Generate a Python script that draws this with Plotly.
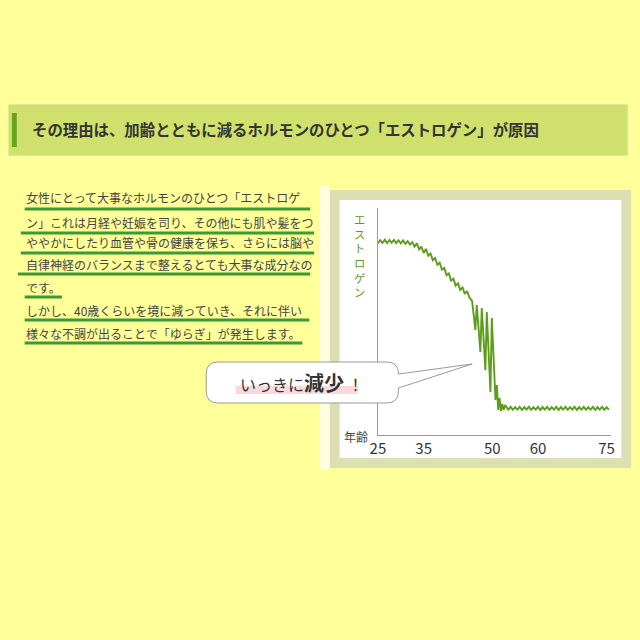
import plotly.graph_objects as go

# estrogen curve (age in years, level 0-100)
ages = [
    25.0, 25.5, 26.0, 26.5, 27.0, 27.5, 28.0, 28.5, 29.0, 29.5, 30.0, 30.5, 31.0, 31.5, 32.0, 32.5,
    33.0, 33.5, 34.0, 34.5, 35.0, 35.5, 36.0, 36.5, 37.0, 37.5, 38.0, 38.5, 39.0, 39.5, 40.0, 40.5,
    41.0, 41.5, 42.0, 42.5, 43.0, 43.5, 44.0, 44.5, 45.0,
    45.6, 46.3, 46.6, 47.4, 47.7, 48.5, 48.8, 49.6, 49.9, 50.7, 51.0, 51.3, 51.6, 51.9, 52.2, 52.5, 52.8,
    53.5, 54.0, 54.5, 55.0, 55.5, 56.0, 56.5, 57.0, 57.5, 58.0, 58.5, 59.0, 59.5, 60.0, 60.5, 61.0,
    61.5, 62.0, 62.5, 63.0, 63.5, 64.0, 64.5, 65.0, 65.5, 66.0, 66.5, 67.0, 67.5, 68.0, 68.5, 69.0,
    69.5, 70.0, 70.5, 71.0, 71.5, 72.0, 72.5, 73.0, 73.5, 74.0, 74.5, 75.0, 75.5,
]
estrogen = [
    84.4, 85.9, 84.6, 86.0, 84.5, 85.9, 84.7, 86.0, 84.5, 85.8, 84.4, 85.7, 84.2, 85.4, 83.9, 85.0,
    83.0, 84.5, 81.8, 83.0, 80.2, 82.0, 79.0, 80.0, 77.0, 78.0, 75.0, 75.9, 72.8, 73.6, 70.4, 71.2,
    68.0, 68.9, 65.8, 66.8, 63.9, 65.0, 62.2, 63.4, 60.6,
    59.0, 46.3, 57.3, 36.6, 55.9, 28.6, 54.2, 18.9, 51.5, 15.4, 22.0, 11.0, 16.3, 10.6, 13.7, 11.0, 13.2,
    11.2, 12.4, 11.1, 12.3, 11.2, 12.4, 11.0, 12.3, 11.2, 12.4, 11.1, 12.3, 11.2, 12.4, 11.0, 12.3,
    11.2, 12.4, 11.1, 12.3, 11.2, 12.4, 11.0, 12.3, 11.2, 12.4, 11.1, 12.3, 11.2, 12.4, 11.0, 12.3,
    11.2, 12.4, 11.1, 12.3, 11.2, 12.4, 11.0, 12.3, 11.2, 12.4, 11.1, 12.3, 11.2,
]
tick_ages = [25, 35, 50, 60, 75]

title_text = "その理由は、加齢とともに減るホルモンのひとつ「エストロゲン」が原因"
body_lines = [
    "女性にとって大事なホルモンのひとつ「エストロゲ",
    "ン」これは月経や妊娠を司り、その他にも肌や髪をつ",
    "ややかにしたり血管や骨の健康を保ち、さらには脳や",
    "自律神経のバランスまで整えるとても大事な成分なの",
    "です。",
    "しかし、40歳くらいを境に減っていき、それに伴い",
    "様々な不調が出ることで「ゆらぎ」が発生します。",
]
y_label = "エストロゲン"
x_label = "年齢"

W = H = 640
JP = "Noto Sans CJK JP"
BG = "#FFFF99"
GREEN = "#5c9e1c"


def px(x):
    return x / W


def py(y):
    return 1 - y / H


def rect(x0, y0, x1, y1, fill, line=None, lw=0):
    return dict(type="rect", xref="paper", yref="paper", x0=px(x0), x1=px(x1), y0=py(y1), y1=py(y0),
                fillcolor=fill, line=dict(color=line or fill, width=lw), layer="below")


def path(cmds):
    out = []
    for c in cmds:
        if isinstance(c, str):
            out.append(c)
        else:
            out.append("%.5f,%.5f" % (px(c[0]), py(c[1])))
    return " ".join(out)


fig = go.Figure()
fig.add_trace(go.Scatter(x=ages, y=estrogen, mode="lines", line=dict(color=GREEN, width=1.9),
                         hoverinfo="skip", showlegend=False))

shapes = []
# header band
shapes.append(rect(0, 104, 632, 156, "#cfe06c", "#eef5b8", 1))
shapes.append(rect(4, 113, 9, 147, "#64a51c"))
# strip and chart frame
shapes.append(rect(318, 186, 328, 470, "#ffffe0"))
shapes.append(rect(328, 190, 635, 468, "#dcdfb2"))
shapes.append(rect(338, 200, 625, 458, "white"))

# underlines of body text
underlines = [(17, 308, 209), (13, 312, 233), (13, 312, 253), (10, 308, 274),
              (17, 55, 297), (17, 307, 320), (17, 300, 343)]
for x0, x1, y in underlines:
    shapes.append(dict(type="line", xref="paper", yref="paper", x0=px(x0), x1=px(x1), y0=py(y), y1=py(y),
                       line=dict(color="#3c9a36", width=3)))

# callout bubble
shapes.append(dict(type="path", xref="paper", yref="paper", fillcolor="white",
                   line=dict(color="#9a9a9a", width=1),
                   path=path(["M", (214, 362), "L", (386, 362), "Q", (398, 362), (398, 374),
                              "L", (473, 364), "L", (398, 388), "L", (398, 391),
                              "Q", (398, 403), (386, 403), "L", (214, 403),
                              "Q", (202, 403), (202, 391), "L", (202, 374),
                              "Q", (202, 362), (214, 362), "Z"])))
shapes.append(dict(type="rect", xref="paper", yref="paper", x0=px(232), x1=px(357), y0=py(394), y1=py(386),
                   fillcolor="#f9d9dd", line=dict(width=0)))

annotations = []
annotations.append(dict(x=px(22), y=py(129), xref="paper", yref="paper", xanchor="left", yanchor="middle",
                        text="<b>" + title_text + "</b>", showarrow=False,
                        font=dict(family=JP, size=15.4, color="#333333")))
text_ys = [197, 222, 243, 264, 287, 310, 333]
for line, y in zip(body_lines, text_ys):
    annotations.append(dict(x=px(16), y=py(y), xref="paper", yref="paper", xanchor="left", yanchor="middle",
                            text=line, showarrow=False, font=dict(family=JP, size=12, color="#444444")))
annotations.append(dict(x=px(358), y=py(255), xref="paper", yref="paper", text="<br>".join(y_label),
                        showarrow=False, font=dict(family=JP, size=11.3, color="#5d9a24")))
annotations.append(dict(x=px(355), y=py(447), xref="paper", yref="paper", text=x_label, showarrow=False,
                        font=dict(family=JP, size=12, color="#444444")))
annotations.append(dict(x=px(300), y=py(382), xref="paper", yref="paper", showarrow=False,
                        text="いっきに<b><span style='font-size:20px'>減少</span></b> ！",
                        font=dict(family=JP, size=16, color="#333333")))

fig.update_layout(
    width=W, height=H, margin=dict(l=0, r=0, t=0, b=0),
    paper_bgcolor=BG, plot_bgcolor="rgba(0,0,0,0)",
    shapes=shapes, annotations=annotations,
    xaxis=dict(domain=[px(377), px(614.7)], range=[25, 76], tickvals=tick_ages,
               showgrid=False, zeroline=False, showline=True, linecolor="#9a9a9a", linewidth=1,
               ticks="", tickfont=dict(family=JP, size=15, color="#333333")),
    yaxis=dict(domain=[py(435), py(208)], range=[0, 100], showgrid=False, zeroline=False,
               showline=True, linecolor="#9a9a9a", linewidth=1, showticklabels=False, ticks=""),
)

fig.write_html("out.html", config={"displayModeBar": False},
               post_script="document.body.style.margin='0';document.body.style.background='%s';" % BG)
